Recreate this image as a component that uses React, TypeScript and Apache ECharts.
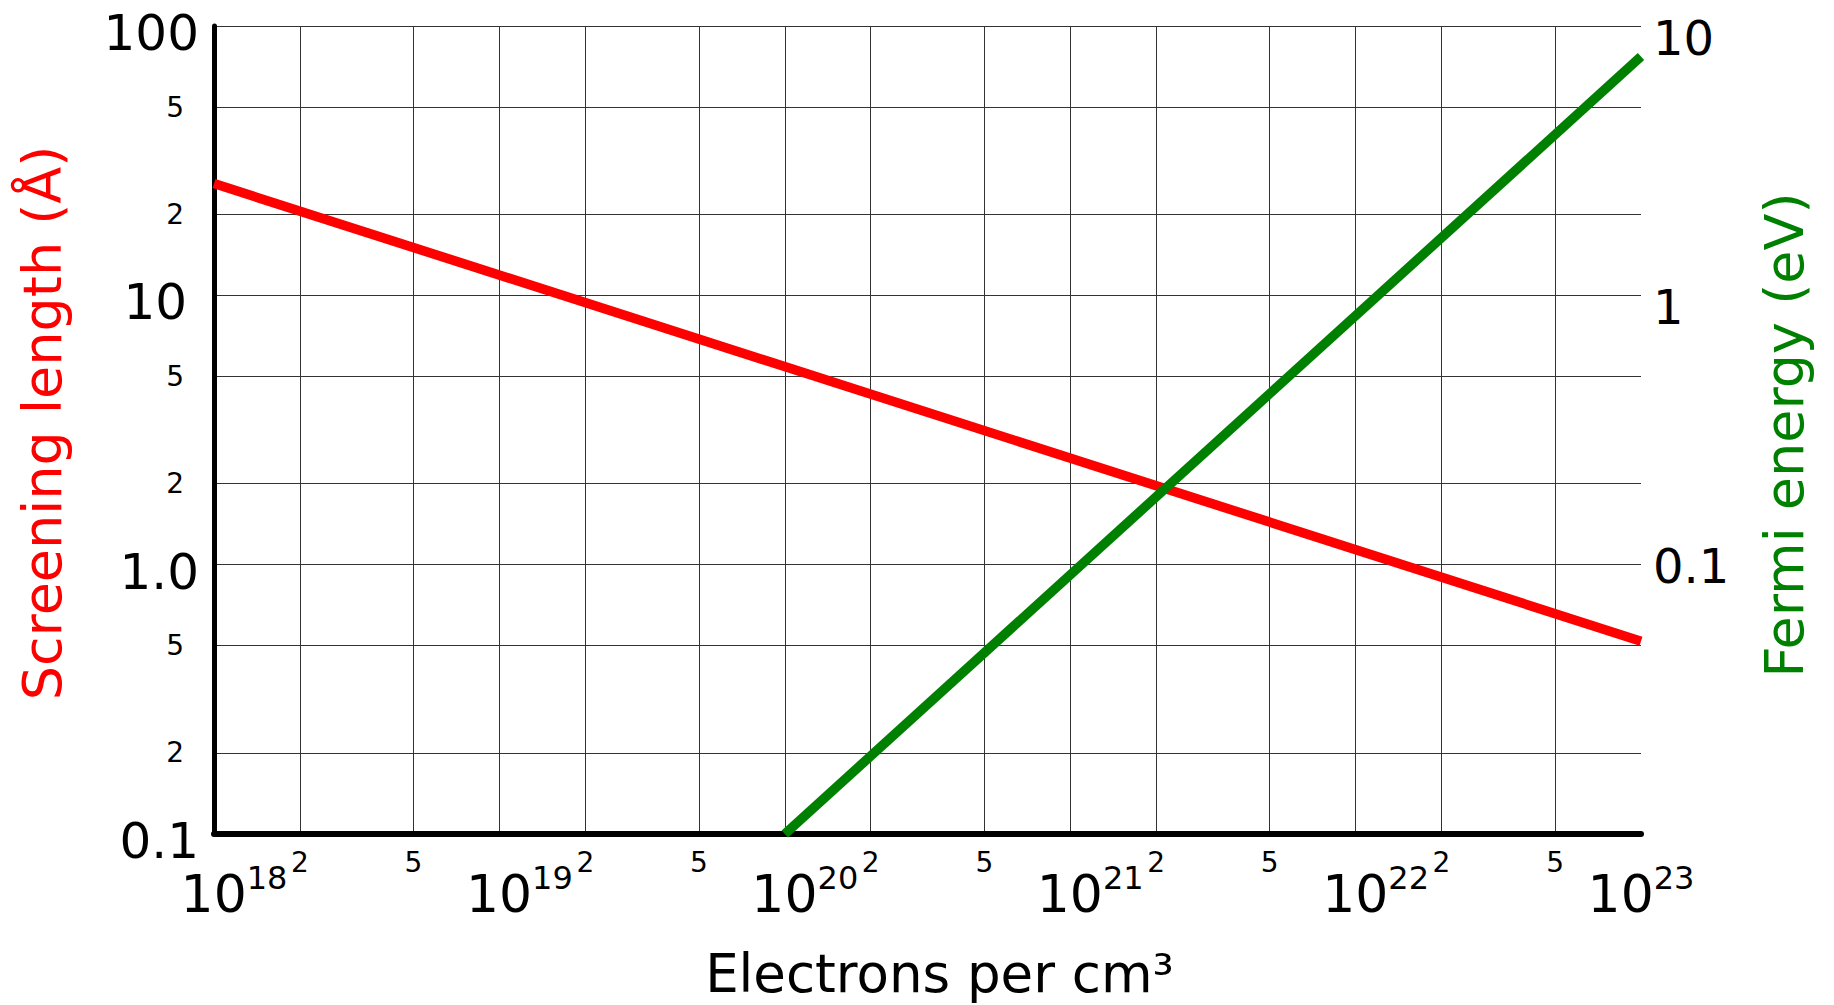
import React, { useEffect, useRef } from 'react';
import * as echarts from 'echarts';

// Data
const densities = [1e18, 1e23];
const screeningLength = [26, 0.52];
const fermiDensities = [1e20, 1e23];
const fermiEnergy = [0.01, 7.7];

// Ticks and labels
const xMajorTicks = [1e18, 1e19, 1e20, 1e21, 1e22, 1e23];
const xMajorExponents = ['18', '19', '20', '21', '22', '23'];
const xMinorTicks = [2e18, 5e18, 2e19, 5e19, 2e20, 5e20, 2e21, 5e21, 2e22, 5e22];
const xMinorLabels = ['2', '5', '2', '5', '2', '5', '2', '5', '2', '5'];
const yMajorTicks = [0.1, 1, 10, 100];
const yMajorLabels = ['0.1', '1.0', '10', '100'];
const yMinorTicks = [0.2, 0.5, 2, 5, 20, 50];
const yMinorLabels = ['2', '5', '2', '5', '2', '5'];
const rightTicks = [0.1, 1, 10];
const rightLabels = ['0.1', '1', '10'];

const X_MIN = 1e18;
const X_MAX = 1e23;
const FONT = 'DejaVu Sans';

function lookup(ticks: number[], labels: string[], v: number): string {
  for (let i = 0; i < ticks.length; i++) {
    if (Math.abs(Math.log10(ticks[i]) - Math.log10(v)) < 1e-3) return labels[i];
  }
  return '';
}

// keep the edge label values a hair inside the axis extent so they are not filtered out
const inside = (vals: number[], lo: number, hi: number) =>
  vals.map((v) => (v >= hi ? hi * 0.99999 : v <= lo ? lo * 1.00001 : v));

export default function App() {
  const ref = useRef<HTMLDivElement>(null);
  useEffect(() => {
    if (!ref.current) return;
    const chart = echarts.init(ref.current, undefined, { renderer: 'svg' });
    const xGrid = [...xMajorTicks, ...xMinorTicks].sort((a, b) => a - b);
    const yGrid = [...yMajorTicks, ...yMinorTicks].sort((a, b) => a - b);
    const gridLine = { show: true, lineStyle: { color: '#333', width: 1 } };
    const option: any = {
      animation: false,
      backgroundColor: '#ffffff',
      textStyle: { fontFamily: FONT },
      grid: { left: 214, right: 193, top: 26, bottom: 171 },
      xAxis: [
        {
          type: 'log',
          logBase: 10,
          min: X_MIN,
          max: X_MAX,
          position: 'bottom',
          name: 'Electrons per cm³',
          nameLocation: 'middle',
          nameGap: 113,
          nameTextStyle: { fontFamily: FONT, fontSize: 53, color: '#000', padding: [0, 0, 0, 24] },
          axisLine: { show: true, onZero: false, lineStyle: { color: '#000', width: 6 } },
          axisTick: { show: false, customValues: xGrid },
          splitLine: gridLine,
          axisLabel: {
            customValues: inside(xMajorTicks, X_MIN, X_MAX),
            showMinLabel: true,
            showMaxLabel: true,
            hideOverlap: false,
            margin: 28,
            formatter: (v: number) => {
              const e = lookup(xMajorTicks, xMajorExponents, v);
              const pad = e === '23' ? '' : '{p|}';
              return `${pad}{b|10}{s|${e}}`;
            },
            rich: {
              p: { width: 40, lineHeight: 58 },
              b: { fontFamily: FONT, fontSize: 52, color: '#000', verticalAlign: 'bottom', lineHeight: 58 },
              s: { fontFamily: FONT, fontSize: 32, color: '#000', verticalAlign: 'top', lineHeight: 58 },
            },
          },
        },
        {
          type: 'log',
          logBase: 10,
          min: X_MIN,
          max: X_MAX,
          position: 'bottom',
          axisLine: { show: false },
          axisTick: { show: false, customValues: xMinorTicks },
          splitLine: { show: false },
          axisLabel: {
            customValues: xMinorTicks,
            margin: 14,
            fontFamily: FONT,
            fontSize: 28,
            color: '#000',
            formatter: (v: number) => lookup(xMinorTicks, xMinorLabels, v),
          },
        },
      ],
      yAxis: [
        {
          type: 'log',
          logBase: 10,
          min: 0.1,
          max: 100,
          position: 'left',
          name: 'Screening length (Å)',
          nameLocation: 'middle',
          nameRotate: 90,
          nameGap: 145,
          nameTextStyle: { fontFamily: FONT, fontSize: 54, color: '#ff0000', padding: [0, 0, 0, 14] },
          axisLine: { show: true, onZero: false, lineStyle: { color: '#000', width: 5 } },
          axisTick: { show: false, customValues: yGrid },
          splitLine: gridLine,
          axisLabel: {
            customValues: yMajorTicks,
            showMinLabel: true,
            showMaxLabel: true,
            margin: 15,
            formatter: (v: number) => {
              const t = lookup(yMajorTicks, yMajorLabels, v);
              return t === '10' ? `{n|${t}}` : `{m|${t}}`;
            },
            rich: {
              m: { fontFamily: FONT, fontSize: 50, color: '#000', padding: [14, 0, 0, 0] },
              n: { fontFamily: FONT, fontSize: 50, color: '#000', padding: [14, 12, 0, 0] },
            },
          },
        },
        {
          type: 'log',
          logBase: 10,
          min: 0.1,
          max: 100,
          position: 'left',
          axisLine: { show: false },
          axisTick: { show: false, customValues: yMinorTicks },
          splitLine: { show: false },
          axisLabel: {
            customValues: yMinorTicks,
            margin: 30,
            fontFamily: FONT,
            fontSize: 28,
            color: '#000',
            formatter: (v: number) => lookup(yMinorTicks, yMinorLabels, v),
          },
        },
        {
          type: 'log',
          logBase: 10,
          min: 0.01,
          max: 10,
          position: 'right',
          name: 'Fermi energy (eV)',
          nameLocation: 'middle',
          nameRotate: 90,
          nameGap: 116,
          nameTextStyle: { fontFamily: FONT, fontSize: 54, color: '#008000', padding: [0, 10, 0, 0] },
          axisLine: { show: false },
          axisTick: { show: false, customValues: rightTicks },
          splitLine: { show: false },
          axisLabel: {
            customValues: rightTicks,
            showMaxLabel: true,
            margin: 12,
            formatter: (v: number) => {
              const t = lookup(rightTicks, rightLabels, v);
              return t === '0.1' ? `{q|${t}}` : `{r|${t}}`;
            },
            rich: {
              r: { fontFamily: FONT, fontSize: 48, color: '#000', padding: [24, 0, 0, 0] },
              q: { fontFamily: FONT, fontSize: 48, color: '#000', padding: [2, 0, 0, 0] },
            },
          },
        },
      ],
      series: [
        {
          type: 'line',
          name: 'Screening length',
          xAxisIndex: 0,
          yAxisIndex: 0,
          data: densities.map((d, i) => [d, screeningLength[i]]),
          showSymbol: false,
          symbol: 'none',
          lineStyle: { color: '#ff0000', width: 9.5 },
          z: 5,
        },
        {
          type: 'line',
          name: 'Fermi energy',
          xAxisIndex: 0,
          yAxisIndex: 2,
          data: fermiDensities.map((d, i) => [d, fermiEnergy[i]]),
          showSymbol: false,
          symbol: 'none',
          lineStyle: { color: '#008000', width: 9.5 },
          z: 6,
        },
      ],
    };
    chart.setOption(option);
    return () => chart.dispose();
  }, []);
  return (
    <div
      ref={ref}
      style={{ position: 'fixed', left: 0, top: 0, width: '1834px', height: '1005px', background: '#fff' }}
    />
  );
}
